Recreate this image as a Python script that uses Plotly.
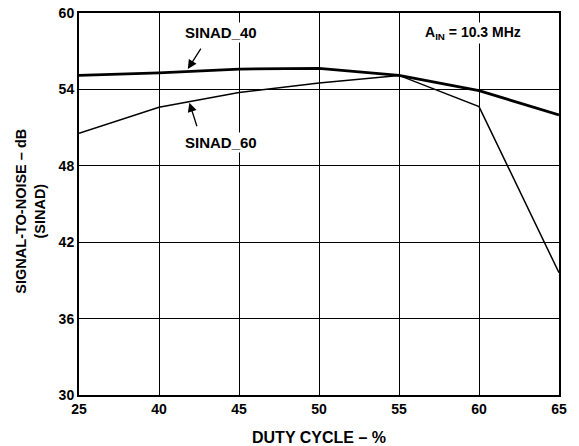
import plotly.graph_objects as go

duty_cycle = ["25", "40", "45", "50", "55", "60", "65"]
sinad_40 = [55.1, 55.3, 55.6, 55.65, 55.1, 53.9, 52.0]
sinad_60 = [50.55, 52.6, 53.75, 54.5, 55.1, 52.65, 39.6]
y_ticks = [30, 36, 42, 48, 54, 60]

FONT = "Liberation Sans, Arial, sans-serif"

fig = go.Figure()
fig.add_trace(go.Scatter(x=duty_cycle, y=sinad_40, mode="lines",
                         line=dict(color="black", width=2.8), name="SINAD_40"))
fig.add_trace(go.Scatter(x=duty_cycle, y=sinad_60, mode="lines",
                         line=dict(color="black", width=1.5), name="SINAD_60"))

# page body adds an 8px offset; figure is sized so the plot lands where the reference has it
fig.update_layout(
    width=571, height=438,
    margin=dict(l=71, r=20, t=5, b=51),
    paper_bgcolor="white", plot_bgcolor="white",
    showlegend=False,
    font=dict(family=FONT, size=14, color="black"),
    xaxis=dict(type="category", range=[0, 6], showgrid=True, gridcolor="black",
               gridwidth=1, showline=True, linecolor="black", linewidth=2,
               mirror=True, ticks="", automargin=False, ticklabeloverflow="allow",
               tickfont=dict(size=14, family=FONT, weight="bold"),
               zeroline=False),
    yaxis=dict(range=[30, 60], tickvals=y_ticks,
               showgrid=True, gridcolor="black", gridwidth=1, showline=True,
               linecolor="black", linewidth=2, mirror=True, ticks="", automargin=False,
               ticklabeloverflow="allow",
               tickfont=dict(size=14, family=FONT, weight="bold"), zeroline=False),
)

# Axis titles
fig.add_annotation(x=0.5, y=-0.11, xref="paper", yref="paper",
                   text="<b>DUTY CYCLE – %</b>", showarrow=False,
                   xanchor="center", yanchor="middle",
                   font=dict(size=16, family=FONT))
fig.add_annotation(x=-0.1, y=0.48, xref="paper", yref="paper",
                   text="<b>SIGNAL-TO-NOISE – dB<br>(SINAD)</b>", showarrow=False,
                   xanchor="center", yanchor="middle", textangle=-90,
                   font=dict(size=14.5, family=FONT))

# Text labels
fig.add_annotation(x=1.77, y=58.45, xref="x", yref="y", text="<b>SINAD_40</b>",
                   showarrow=False, font=dict(size=15, family=FONT), bgcolor="white")
fig.add_annotation(x=1.77, y=49.85, xref="x", yref="y", text="<b>SINAD_60</b>",
                   showarrow=False, font=dict(size=15, family=FONT), bgcolor="white")
fig.add_annotation(x=4.93, y=58.4, xref="x", yref="y",
                   text="<b>A<sub>IN</sub> = 10.3 MHz</b>",
                   showarrow=False, font=dict(size=14, family=FONT), bgcolor="white")

# Arrows
fig.add_annotation(x=1.36, y=55.6, xref="x", yref="y", text="", showarrow=True,
                   ax=14, ay=-22, arrowhead=2, arrowsize=1.4, arrowwidth=1.3, arrowcolor="black")
fig.add_annotation(x=1.38, y=52.95, xref="x", yref="y", text="", showarrow=True,
                   ax=8, ay=25, arrowhead=2, arrowsize=1.4, arrowwidth=1.3, arrowcolor="black")

fig.write_html("out.html")
